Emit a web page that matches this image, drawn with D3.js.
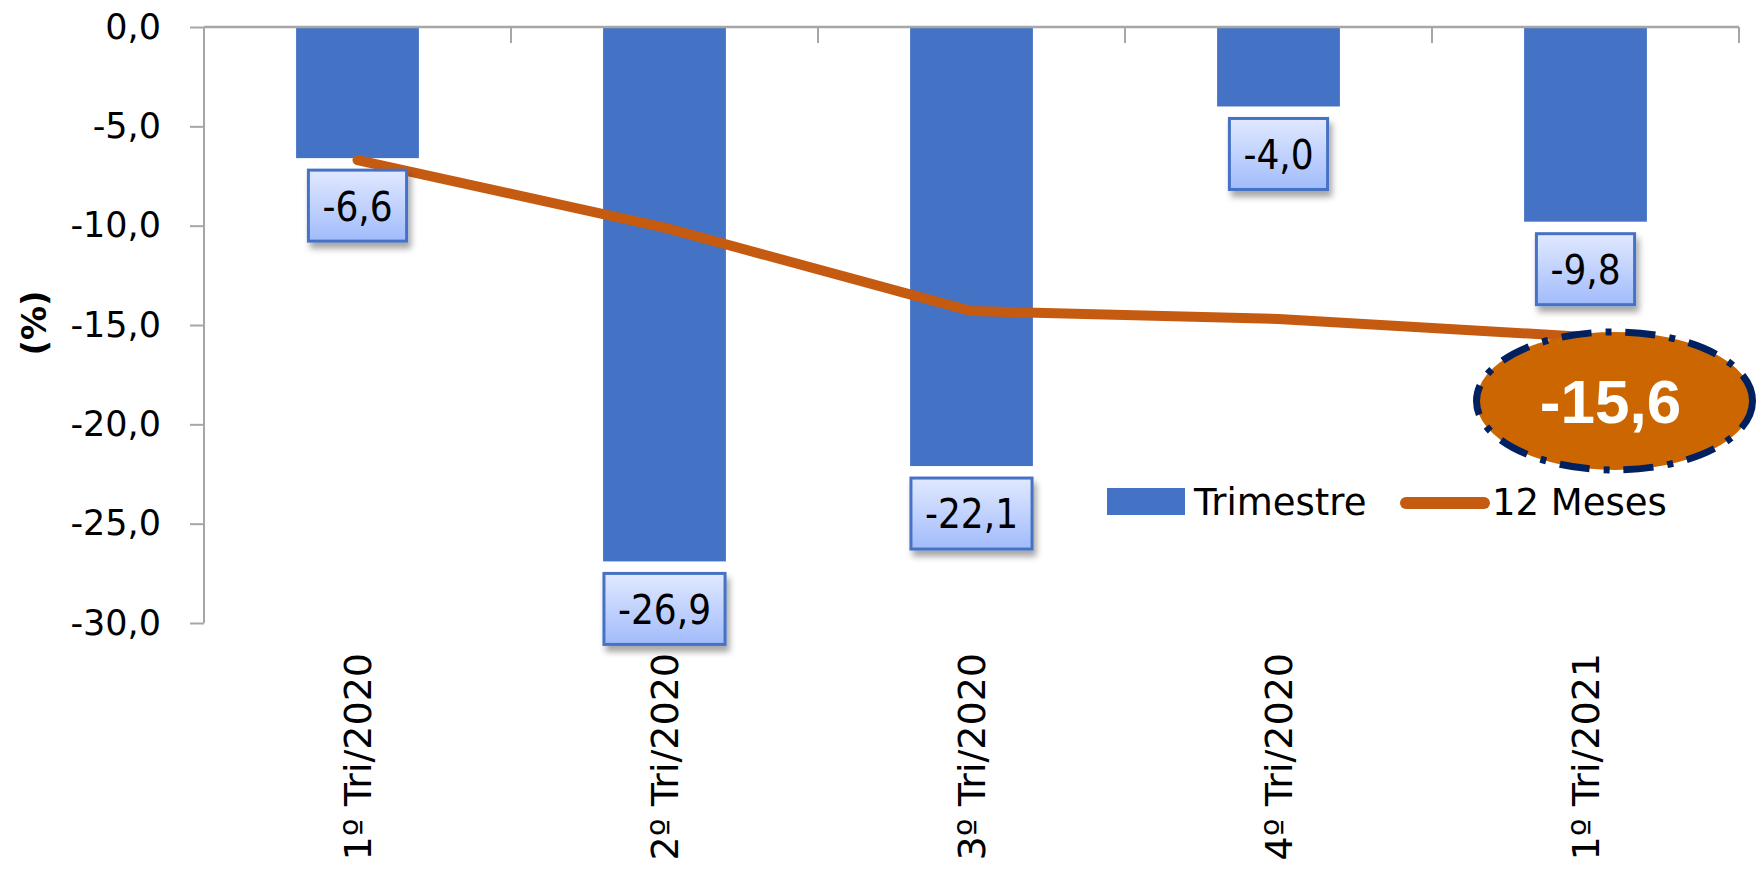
<!DOCTYPE html>
<html>
<head>
<meta charset="utf-8">
<script src="https://cdn.jsdelivr.net/npm/d3@7"></script>
<style>
  html, body { margin: 0; padding: 0; background: #fff; overflow: hidden; }
  svg { display: block; }
</style>
</head>
<body>
<svg id="chart" width="1756" height="871"></svg>
<script>
const categories = ["1º Tri/2020", "2º Tri/2020", "3º Tri/2020", "4º Tri/2020", "1º Tri/2021"];
const trimestre = [-6.6, -26.9, -22.1, -4.0, -9.8];
const meses12 = [-6.7, -10.1, -14.3, -14.7, -15.6];
const yTicks = [0, -5, -10, -15, -20, -25, -30];
const seriesNames = ["Trimestre", "12 Meses"];
const highlightValue = -15.6;

const fmt = v => v.toFixed(1).replace(".", ",");
const FONT = "'DejaVu Sans Condensed', 'DejaVu Sans', sans-serif";
const FONT_REG = "'DejaVu Sans', sans-serif";

const svg = d3.select("#chart");
const plotLeft = 204, plotRight = 1739, plotTop = 27, plotBottom = 623;

const x = d3.scaleBand().domain(categories).range([plotLeft, plotRight]).paddingInner(0.6).paddingOuter(0.3);
const y = d3.scaleLinear().domain([-30, 0]).range([plotBottom, plotTop]);

const defs = svg.append("defs");
const grad = defs.append("linearGradient").attr("id", "lblGrad").attr("x1", 0).attr("y1", 0).attr("x2", 0).attr("y2", 1);
grad.append("stop").attr("offset", "0%").attr("stop-color", "#E1E9FF");
grad.append("stop").attr("offset", "100%").attr("stop-color", "#A1BBFB");
const filt = defs.append("filter").attr("id", "shadow").attr("x", "-20%").attr("y", "-20%").attr("width", "150%").attr("height", "160%");
filt.append("feDropShadow").attr("dx", 3).attr("dy", 6).attr("stdDeviation", 3).attr("flood-color", "#000").attr("flood-opacity", 0.35);

// Y axis
const yAxis = d3.axisLeft(y).tickValues(yTicks).tickSize(14).tickPadding(29).tickFormat(fmt);
const gy = svg.append("g").attr("transform", `translate(${plotLeft},0)`).call(yAxis);
gy.select(".domain").remove();
gy.selectAll(".tick line").attr("stroke", "#A6A6A6").attr("stroke-width", 2);
gy.selectAll(".tick text").attr("font-family", FONT_REG).attr("font-size", 35).attr("fill", "#000");
svg.append("line").attr("x1", plotLeft).attr("x2", plotLeft).attr("y1", y(0)).attr("y2", y(-30))
  .attr("stroke", "#A6A6A6").attr("stroke-width", 2);

// Bars
svg.append("g").selectAll("rect").data(categories).join("rect")
  .attr("x", d => x(d))
  .attr("width", x.bandwidth())
  .attr("y", y(0))
  .attr("height", (d, i) => y(trimestre[i]) - y(0))
  .attr("fill", "#4472C4");

// Top category axis (zero line) with boundary ticks
svg.append("line").attr("x1", plotLeft).attr("x2", plotRight).attr("y1", y(0)).attr("y2", y(0))
  .attr("stroke", "#A6A6A6").attr("stroke-width", 2.5);
const boundaries = categories.map(c => x(c) - x.step() * x.paddingInner() / 2).slice(1).concat([plotRight]);
svg.append("g").selectAll("line").data(boundaries).join("line")
  .attr("x1", d => d).attr("x2", d => d).attr("y1", y(0)).attr("y2", y(0) + 16)
  .attr("stroke", "#A6A6A6").attr("stroke-width", 2);

// X labels
svg.append("g").selectAll("text").data(categories).join("text")
  .attr("transform", d => `translate(${x(d) + x.bandwidth() / 2},653) rotate(-90)`)
  .attr("text-anchor", "end").attr("dy", "0.36em")
  .attr("font-family", FONT_REG).attr("font-size", 38).attr("fill", "#000")
  .text(d => d);

// Y title
svg.append("text").attr("transform", "translate(34,323) rotate(-90)")
  .attr("text-anchor", "middle").attr("dy", "0.36em")
  .attr("font-family", FONT_REG).attr("font-size", 34).attr("font-weight", "bold")
  .text("(%)");

// Line
const line = d3.line().x((d, i) => x(categories[i]) + x.bandwidth() / 2).y(d => y(d));
svg.append("path").datum(meses12).attr("d", line)
  .attr("fill", "none").attr("stroke", "#C55A11").attr("stroke-width", 10)
  .attr("stroke-linejoin", "round").attr("stroke-linecap", "round");

// Data labels for bars
const lbl = svg.append("g").selectAll("g").data(categories).join("g")
  .attr("transform", (d, i) => `translate(${x(d) + x.bandwidth() / 2},${y(trimestre[i]) + 12})`);
lbl.each(function (d, i) {
  const g = d3.select(this);
  const rect = g.append("rect").attr("filter", "url(#shadow)");
  const t = g.append("text").attr("text-anchor", "middle").attr("y", 36).attr("dy", "0.36em")
    .attr("font-family", FONT).attr("font-size", 40).attr("fill", "#000").text(fmt(trimestre[i]));
  const w = t.node().getComputedTextLength() + 28;
  rect.attr("x", -w / 2).attr("y", 0).attr("width", w).attr("height", 71)
    .attr("fill", "url(#lblGrad)").attr("stroke", "#4472C4").attr("stroke-width", 3);
});

// Legend
const lg = svg.append("g");
lg.append("rect").attr("x", 1107).attr("y", 488).attr("width", 78).attr("height", 27).attr("fill", "#4472C4");
lg.append("text").attr("x", 1194).attr("y", 515).attr("font-family", FONT_REG).attr("font-size", 37).text(seriesNames[0]);
lg.append("line").attr("x1", 1406).attr("x2", 1484).attr("y1", 503).attr("y2", 503)
  .attr("stroke", "#C55A11").attr("stroke-width", 12).attr("stroke-linecap", "round");
lg.append("text").attr("x", 1492).attr("y", 515).attr("font-family", FONT_REG).attr("font-size", 37).text(seriesNames[1]);

// Highlight ellipse
const lastX = x(categories[4]) + x.bandwidth() / 2;
const cx = lastX + 29, cy = y(highlightValue) + 64;
svg.append("ellipse").attr("cx", cx).attr("cy", cy).attr("rx", 138).attr("ry", 69)
  .attr("fill", "#CC6600").attr("stroke", "#002060").attr("stroke-width", 7)
  .attr("stroke-dasharray", "30,14,6,14");
const ht = svg.append("text").attr("x", cx).attr("y", cy).attr("dy", "0.36em").attr("text-anchor", "start")
  .attr("font-family", "'Liberation Sans', Arial, sans-serif").attr("font-weight", "bold")
  .attr("font-size", 62).attr("fill", "#fff").text(fmt(highlightValue));
const bb = ht.node().getBBox();
ht.attr("x", cx - 4 - bb.width / 2);
</script>
</body>
</html>
